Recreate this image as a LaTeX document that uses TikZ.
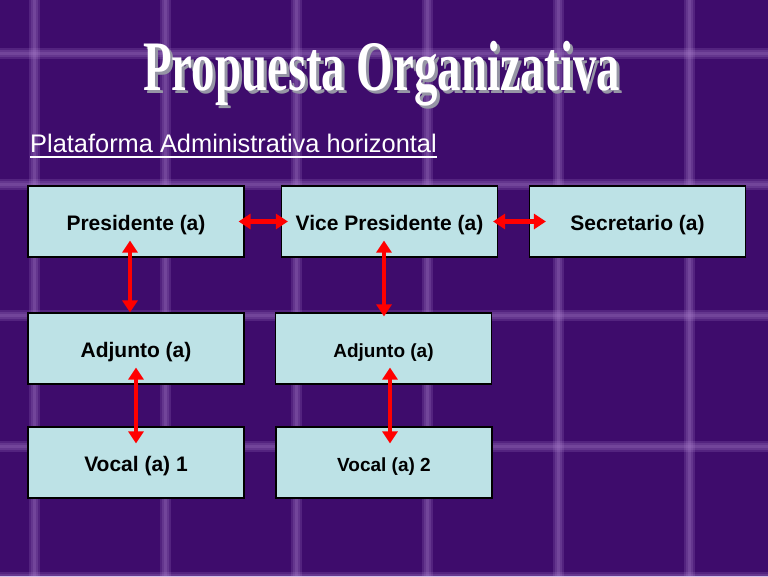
\documentclass[tikz,border=0pt]{standalone}
\usepackage{fontspec}
\setmainfont{Liberation Sans}
\newfontfamily\titlefont{Liberation Serif}
\usetikzlibrary{arrows.meta}
\definecolor{slidebg}{RGB}{62,12,108}
\definecolor{gridline}{RGB}{170,130,205}
\definecolor{boxfill}{RGB}{189,226,230}
\definecolor{titleshade}{RGB}{150,150,165}
\tikzset{
  orgbox/.style={draw=black, line width=1.1pt, fill=boxfill, minimum width=216pt,
    minimum height=71pt, inner sep=0pt, text height=17pt, text depth=0pt,
    font=\bfseries\fontsize{21}{25}\selectfont},
  smallbox/.style={orgbox, font=\bfseries\fontsize{19}{23}\selectfont},
  link/.style={red, line width=4.5pt,
    {Triangle[width=15pt,length=12pt]}-{Triangle[width=15pt,length=12pt]}},
  glow/.style={gridline, line width=#1, opacity=0.2},
}

\begin{document}
\begin{tikzpicture}[x=1pt,y=-1pt]
    \useasboundingbox (0,0) rectangle (768,576);
    \fill[slidebg] (0,0) rectangle (768,576);
    \foreach \gx in {34,165,296,427,558,689} {
        \foreach \w in {11pt,7pt,3pt}
            \draw[glow=\w] (\gx,0) -- (\gx,576);
    }
    \foreach \gy in {53,184,315,446,577} {
        \foreach \w in {11pt,7pt,3pt}
            \draw[glow=\w] (0,\gy) -- (768,\gy);
    }

    \node[titleshade, anchor=base, inner sep=0pt, font=\titlefont\bfseries\fontsize{71}{71}\selectfont]
        (titleshadow) at (384.5,93) {\scalebox{0.66}[1]{Propuesta Organizativa}};
    \node[white, anchor=base, inner sep=0pt, font=\titlefont\bfseries\fontsize{71}{71}\selectfont]
        (title) at (381.5,90) {\scalebox{0.66}[1]{Propuesta Organizativa}};

    \node[white, anchor=base west, inner sep=0pt, font=\fontsize{25.4}{30}\selectfont]
        (subtitle) at (30,152) {Plataforma Administrativa horizontal};
    \draw[white, line width=1.3pt] ([yshift=-5pt]subtitle.base west) -- ([yshift=-5pt]subtitle.base east);

    \node[orgbox] (pres) at (136,221.5) {Presidente (a)};
    \node[orgbox] (vice) at (389.5,221.5) {Vice Presidente (a)};
    \node[orgbox] (secr) at (637.5,221.5) {Secretario (a)};
    \node[orgbox] (adjpres) at (136,348.5) {Adjunto (a)};
    \node[smallbox] (adjvice) at (383.5,348.5) {Adjunto (a)};
    \node[orgbox] (vocal1) at (136,462.5) {Vocal (a) 1};
    \node[smallbox] (vocal2) at (384,462.5) {Vocal (a) 2};

    \draw[link] ([xshift=-6pt]pres.east) -- ([xshift=7pt]vice.west);
    \draw[link] ([xshift=-5pt]vice.east) -- ([xshift=17pt]secr.west);
    \draw[link] ([xshift=-6pt,yshift=17pt]pres.south) -- ([xshift=-6pt]adjpres.north);
    \draw[link] ([xshift=-5.5pt,yshift=17pt]vice.south) -- ([xshift=0.5pt,yshift=-4pt]adjvice.north);
    \draw[link] ([yshift=17pt]adjpres.south) -- ([yshift=-17pt]vocal1.north);
    \draw[link] ([xshift=6.5pt,yshift=17pt]adjvice.south) -- ([xshift=6pt,yshift=-17pt]vocal2.north);
\end{tikzpicture}
\end{document}
